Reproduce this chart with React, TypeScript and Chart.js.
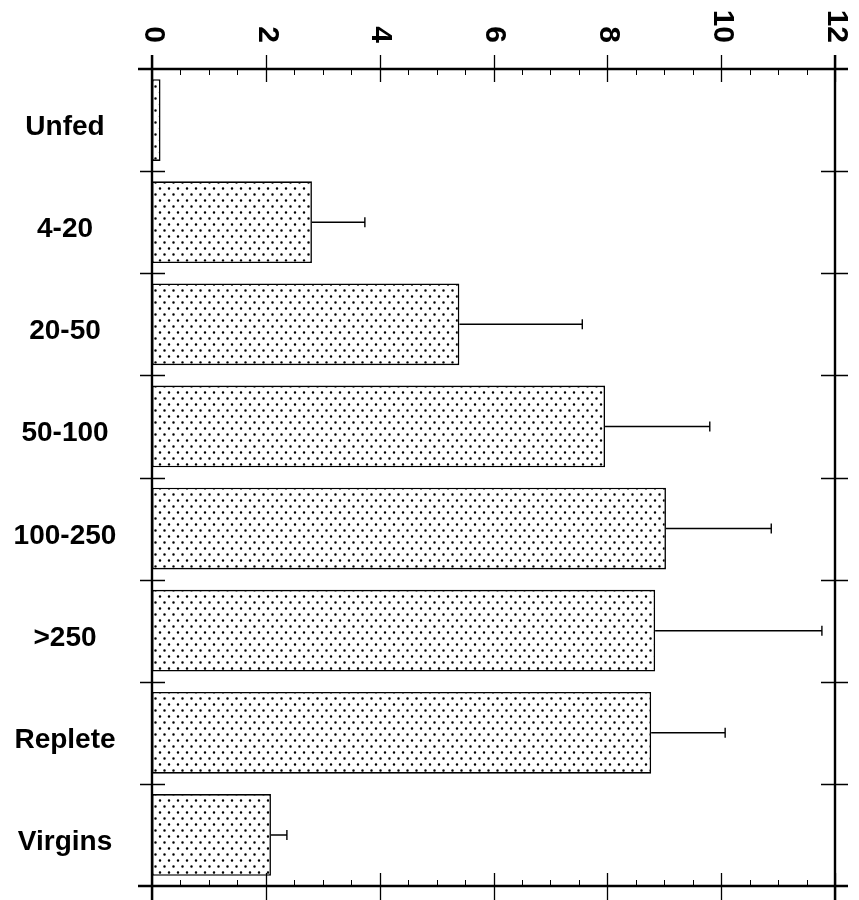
import React, { useEffect, useRef } from "react";
import { Chart, registerables } from "chart.js";

Chart.register(...registerables);

const categories = ["Unfed", "4-20", "20-50", "50-100", "100-250", ">250", "Replete", "Virgins"];
const means = [0.15, 2.81, 5.4, 7.96, 9.03, 8.84, 8.77, 2.09];
const errorEnds = [0.15, 3.74, 7.56, 9.8, 10.88, 11.77, 10.07, 2.37];
const xTickLabels = [0, 2, 4, 6, 8, 10, 12];
const xMin = 0;
const xMax = 12;
const minorStep = 0.5;

function makePattern(): CanvasPattern | string {
  const tile = document.createElement("canvas");
  tile.width = 9;
  tile.height = 12;
  const c = tile.getContext("2d");
  if (!c) return "#fff";
  c.fillStyle = "#fff";
  c.fillRect(0, 0, 9, 12);
  c.fillStyle = "#000";
  c.beginPath();
  c.arc(2.5, 2.5, 1.25, 0, Math.PI * 2);
  c.closePath();
  c.arc(7, 8.5, 1.25, 0, Math.PI * 2);
  c.closePath();
  c.fill();
  const ctx = document.createElement("canvas").getContext("2d");
  return (ctx && ctx.createPattern(tile, "repeat")) || "#fff";
}

const framePlugin = {
  id: "framePlugin",
  afterDatasetsDraw(chart: any) {
    const ctx = chart.ctx;
    const xs = chart.scales.x;
    const meta = chart.getDatasetMeta(0);
    ctx.save();
    ctx.strokeStyle = "#000";
    ctx.lineWidth = 1.4;
    meta.data.forEach((bar: any, i: number) => {
      if (errorEnds[i] <= means[i]) return;
      const x0 = xs.getPixelForValue(means[i]);
      const x1 = xs.getPixelForValue(errorEnds[i]);
      const y = bar.y;
      ctx.beginPath();
      ctx.moveTo(x0, y);
      ctx.lineTo(x1, y);
      ctx.moveTo(x1, y - 5);
      ctx.lineTo(x1, y + 5);
      ctx.stroke();
    });
    ctx.restore();
  },
  afterDraw(chart: any) {
    const ctx = chart.ctx;
    const a = chart.chartArea;
    const xs = chart.scales.x;
    const ys = chart.scales.y;
    ctx.save();
    ctx.strokeStyle = "#000";
    ctx.lineWidth = 2.4;
    ctx.beginPath();
    ctx.moveTo(a.left - 14, a.top);
    ctx.lineTo(a.right + 13, a.top);
    ctx.moveTo(a.left - 14, a.bottom);
    ctx.lineTo(a.right + 13, a.bottom);
    ctx.moveTo(a.left, a.top - 14);
    ctx.lineTo(a.left, a.bottom + 14);
    ctx.moveTo(a.right, a.top - 14);
    ctx.lineTo(a.right, a.bottom + 14);
    ctx.stroke();
    ctx.lineWidth = 1;
    ctx.beginPath();
    for (let v = xMin; v <= xMax + 1e-9; v += minorStep) {
      const px = Math.round(xs.getPixelForValue(v)) + 0.5;
      ctx.moveTo(px, a.top);
      ctx.lineTo(px, a.top + 6);
      ctx.moveTo(px, a.bottom);
      ctx.lineTo(px, a.bottom - 6);
    }
    ctx.stroke();
    ctx.lineWidth = 1.3;
    ctx.beginPath();
    xTickLabels.forEach((v) => {
      const px = Math.round(xs.getPixelForValue(v)) + 0.5;
      ctx.moveTo(px, a.top - 14);
      ctx.lineTo(px, a.top + 13);
      ctx.moveTo(px, a.bottom - 13);
      ctx.lineTo(px, a.bottom + 14);
    });
    ctx.stroke();
    ctx.beginPath();
    for (let i = 0; i < categories.length - 1; i++) {
      const py = Math.round((ys.getPixelForValue(i) + ys.getPixelForValue(i + 1)) / 2) + 0.5;
      ctx.moveTo(a.left - 12, py);
      ctx.lineTo(a.left + 13, py);
      ctx.moveTo(a.right - 14, py);
      ctx.lineTo(a.right + 13, py);
    }
    ctx.stroke();
    ctx.fillStyle = "#000";
    ctx.font = "bold 30px 'Liberation Sans', Arial, sans-serif";
    xTickLabels.forEach((v) => {
      const px = xs.getPixelForValue(v);
      ctx.save();
      ctx.translate(px + 1, 43);
      ctx.rotate(Math.PI / 2);
      ctx.textAlign = "right";
      ctx.textBaseline = "middle";
      ctx.fillText(String(v), 0, 0);
      ctx.restore();
    });
    ctx.font = "bold 28px 'Liberation Sans', Arial, sans-serif";
    ctx.textAlign = "center";
    ctx.textBaseline = "alphabetic";
    categories.forEach((c, i) => {
      const py = ys.getPixelForValue(i);
      ctx.fillText(c, 65, py + 15);
    });
    ctx.restore();
  },
};

export default function App() {
  const ref = useRef<HTMLCanvasElement | null>(null);
  useEffect(() => {
    if (!ref.current) return;
    const pattern = makePattern();
    const chart = new Chart(ref.current, {
      type: "bar",
      data: {
        labels: categories,
        datasets: [
          {
            data: means,
            backgroundColor: pattern as any,
            borderColor: "#000",
            borderWidth: 1.6,
            borderSkipped: false,
            barPercentage: 0.8,
            categoryPercentage: 1,
          },
        ],
      },
      options: {
        indexAxis: "y",
        responsive: false,
        animation: false,
        devicePixelRatio: 1,
        layout: { padding: { left: 152, top: 69, right: 24, bottom: 14 } },
        plugins: { legend: { display: false }, tooltip: { enabled: false } },
        scales: {
          x: { display: false, min: xMin, max: xMax },
          y: { display: false, offset: true },
        },
      },
      plugins: [framePlugin],
    });
    return () => chart.destroy();
  }, []);
  return (
    <div style={{ position: "fixed", left: 0, top: 0, width: 859, height: 900, background: "#fff" }}>
      <canvas ref={ref} width={859} height={900} />
    </div>
  );
}
